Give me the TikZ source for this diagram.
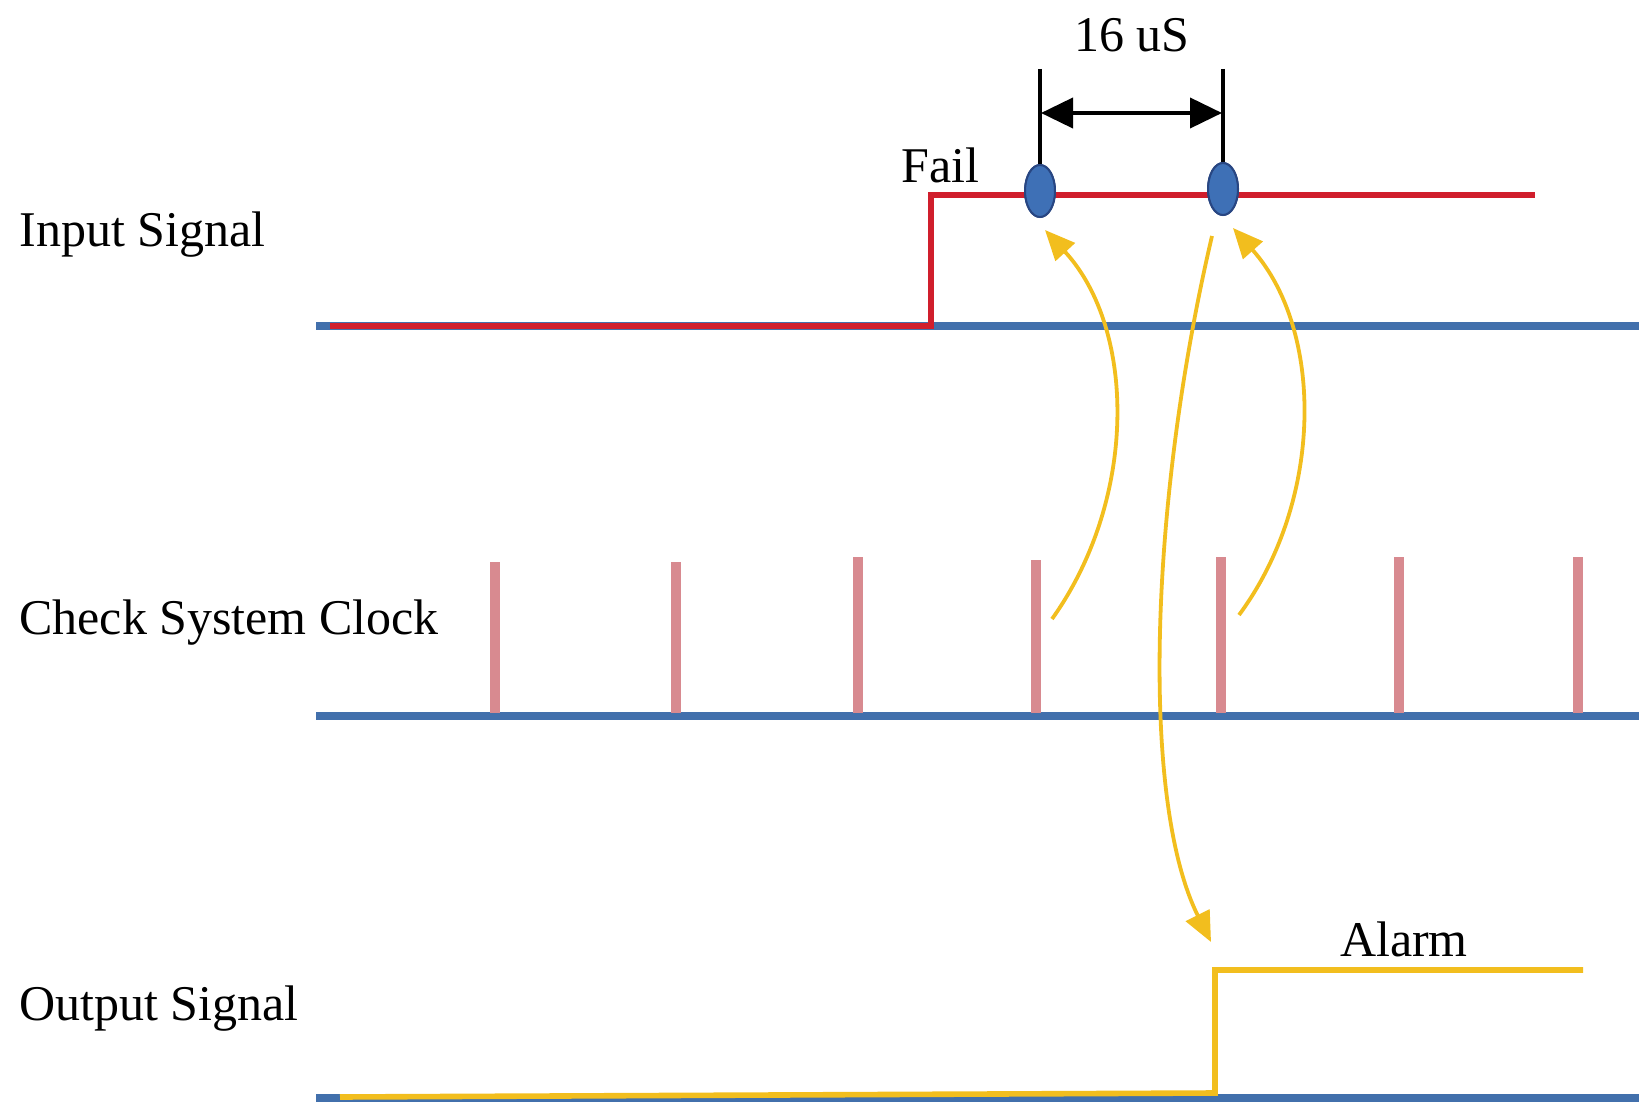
\documentclass[tikz,border=0pt]{standalone}
\usepackage{fontspec}
\setmainfont{Liberation Serif}
\usetikzlibrary{arrows.meta,shapes.geometric}
\definecolor{sigblue}{RGB}{66,112,172}
\definecolor{sigred}{RGB}{208,30,44}
\definecolor{clkpink}{RGB}{216,138,144}
\definecolor{arrowgold}{RGB}{242,190,30}
\definecolor{ellblue}{RGB}{62,112,182}
\definecolor{ellborder}{RGB}{40,70,130}
\begin{document}
\begin{tikzpicture}[x=0.5pt,y=-0.5pt,
  siglabel/.style={font=\fontsize{25}{30}\selectfont, inner sep=0pt, anchor=base west},
  toplabel/.style={font=\fontsize{25}{30}\selectfont, inner sep=0pt, anchor=base},
  baseline/.style={draw=sigblue, line width=4.2pt},
  redsig/.style={draw=sigred, line width=3pt, line join=miter},
  outsig/.style={draw=arrowgold, line width=2.8pt, line join=miter},
  clkbar/.style={draw=clkpink, line width=5.2pt},
  goldarrow/.style={draw=arrowgold, line width=1.9pt, -{Triangle[length=15pt,width=13pt]}},
  tickline/.style={draw=black, line width=1.8pt},
  dimarrow/.style={draw=black, line width=2pt, {Triangle[length=16pt,width=15pt]}-{Triangle[length=16pt,width=15pt]}},
  sample/.style={ellipse, draw=ellborder, fill=ellblue, line width=1pt, minimum width=15pt, minimum height=26pt, inner sep=0pt}
]
\useasboundingbox (0,0) rectangle (1639,1107);

% labels
\node[siglabel] (lin) at (19,247) {Input Signal};
\node[siglabel] (lclk) at (19,634) {Check System Clock};
\node[siglabel] (lout) at (19,1020) {Output Signal};
\node[siglabel] (fail) at (901,183) {Fail};
\node[toplabel] (dt) at (1132,52) {16 uS};
\node[toplabel] (alarm) at (1404,956) {Alarm};

% input signal
\coordinate (ib0) at (316,326);
\coordinate (ib1) at (1639,326);
\draw[baseline] (ib0) -- (ib1);
\coordinate (r0) at (330,326);
\coordinate (r1) at (931,326);
\coordinate (r2) at (931,195);
\coordinate (r3) at (1535,195);
\draw[redsig] (r0) -- (r1) -- (r2) -- (r3);

% 16 uS dimension
\coordinate (t1) at (1040,69);
\coordinate (t2) at (1223,69);
\node[sample] (e1) at (1040,191) {};
\node[sample] (e2) at (1223,189) {};
\draw[tickline] (t1) -- (e1.north);
\draw[tickline] (t2) -- (e2.north);
\node[sample] at (e1) {};
\node[sample] at (e2) {};
\coordinate (d1) at (1041,113);
\coordinate (d2) at (1222,113);
\draw[dimarrow] (d1) -- (d2);

% clock
\coordinate (cb0) at (316,716);
\coordinate (cb1) at (1639,716);
\draw[baseline] (cb0) -- (cb1);
\foreach \x/\t in {495/562,676/562,858/557,1036/560,1221/557,1399/557,1578/557}
  \draw[clkbar] (\x,\t) -- (\x,713);

% output
\coordinate (ob0) at (316,1098);
\coordinate (ob1) at (1639,1098);
\draw[baseline] (ob0) -- (ob1);
\coordinate (o0) at (340,1097);
\coordinate (o1) at (1215,1093);
\coordinate (o2) at (1215,970);
\coordinate (o3) at (1583,970);
\draw[outsig] (o0) -- (o1) -- (o2) -- (o3);

% gold arrows
\coordinate (a1s) at (1052,619);
\coordinate (a1e) at (1045,230);
\draw[goldarrow] (a1s) .. controls (1137,500) and (1137,330) .. (a1e);
\coordinate (a2s) at (1239,615);
\coordinate (a2e) at (1233,228);
\draw[goldarrow] (a2s) .. controls (1324,500) and (1324,330) .. (a2e);
\coordinate (a3s) at (1212,236);
\coordinate (a3e) at (1211,942);
\draw[goldarrow] (a3s) .. controls (1150,500) and (1140,800) .. (a3e);
\end{tikzpicture}
\end{document}
